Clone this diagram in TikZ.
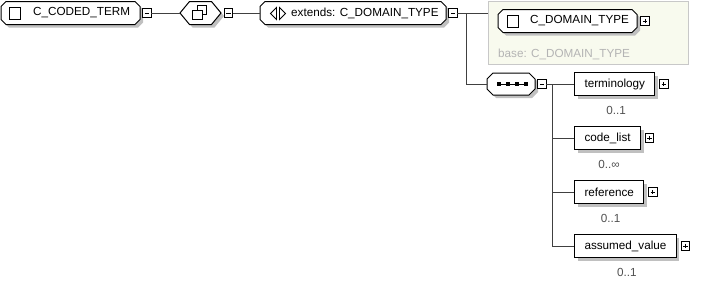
\documentclass[tikz,border=0pt]{standalone}
\usepackage{fontspec}
\setmainfont{Liberation Sans}
\usetikzlibrary{shadows}

\definecolor{shadowc}{HTML}{C0C0C0}
\definecolor{wire}{HTML}{404040}
\definecolor{panelfill}{HTML}{F8FAEE}
\definecolor{paneledge}{HTML}{C8C8C8}
\definecolor{basetext}{HTML}{B4B4B4}
\definecolor{cardtext}{HTML}{505050}

\tikzset{
  boxline/.style={draw=black, line width=1pt, fill=white},
  anchorbox/.style={inner sep=0pt, outer sep=0pt},
  lbl/.style={font=\fontsize{11.7}{13}\selectfont, inner sep=0pt, anchor=west},
  card/.style={font=\fontsize{11.7}{13}\selectfont, inner sep=0pt, text=cardtext},
  wire/.style={draw=wire, line width=1pt},
  icon/.style={draw=black, line width=0.9pt, fill=white},
  togminus/.style={draw=black, line width=1pt, fill=white, minimum size=8.5pt,
    inner sep=0pt, outer sep=0pt,
    path picture={\draw[line width=1pt]
      ([xshift=2pt]path picture bounding box.west) --
      ([xshift=-2pt]path picture bounding box.east);}},
  togplus/.style={draw=black, line width=1pt, fill=white, minimum size=8.5pt,
    inner sep=0pt, outer sep=0pt,
    path picture={\draw[line width=1pt]
      ([xshift=2pt]path picture bounding box.west) --
      ([xshift=-2pt]path picture bounding box.east)
      ([yshift=-2pt]path picture bounding box.north) --
      ([yshift=2pt]path picture bounding box.south);}},
  childbox/.style={draw=black, line width=1pt, fill=white, anchor=west,
    minimum height=23pt, inner xsep=10pt, inner ysep=0pt,
    font=\fontsize{11.7}{13}\selectfont,
    drop shadow={shadow xshift=3pt, shadow yshift=-3pt, fill=shadowc, opacity=1}},
}

% octagonal box (chamfered corners) with its shadow and a named anchor node
% #1 name, #2 x1, #3 y1, #4 x2, #5 y2, #6 chamfer
\newcommand\octbox[6]{%
  \fill[shadowc] (#2+#6+3,#3+3) -- (#4-#6+3,#3+3) -- (#4+3,#3+#6+3) -- (#4+3,#5-#6+3)
    -- (#4-#6+3,#5+3) -- (#2+#6+3,#5+3) -- (#2+3,#5-#6+3) -- (#2+3,#3+#6+3) -- cycle;
  \draw[boxline] (#2+#6,#3) -- (#4-#6,#3) -- (#4,#3+#6) -- (#4,#5-#6)
    -- (#4-#6,#5) -- (#2+#6,#5) -- (#2,#5-#6) -- (#2,#3+#6) -- cycle;
  \node[anchorbox, minimum width={(#4)-(#2)}, minimum height={(#5)-(#3)}]
    (#1) at ({(#2+#4)/2},{(#3+#5)/2}) {};
}

% hexagonal compositor box with its shadow and a named anchor node
% #1 name, #2 x1, #3 y1, #4 x2, #5 y2, #6 tip depth
\newcommand\hexbox[6]{%
  \fill[shadowc] (#2+3,{(#3+#5)/2+3}) -- (#2+#6+3,#3+3) -- (#4-#6+3,#3+3)
    -- (#4+3,{(#3+#5)/2+3}) -- (#4-#6+3,#5+3) -- (#2+#6+3,#5+3) -- cycle;
  \draw[boxline] (#2,{(#3+#5)/2}) -- (#2+#6,#3) -- (#4-#6,#3)
    -- (#4,{(#3+#5)/2}) -- (#4-#6,#5) -- (#2+#6,#5) -- cycle;
  \node[anchorbox, minimum width={(#4)-(#2)}, minimum height={(#5)-(#3)}]
    (#1) at ({(#2+#4)/2},{(#3+#5)/2}) {};
}

\begin{document}
\begin{tikzpicture}[x=1pt, y=-1pt]
\useasboundingbox (0,0) rectangle (721,281);

% ---- root element C_CODED_TERM ----
\octbox{cterm}{1}{1.5}{140}{24.5}{5}
\draw[icon] (9,7) rectangle (20,19);
\node[lbl] (cterm-t) at (33,13) {C\_CODED\_TERM};
\node[togminus] (m1) at (147,13) {};

% ---- "all" compositor ----
\hexbox{all}{180}{1.5}{221}{24.5}{9.5}
\draw[icon] (197,5) rectangle (206.5,14.5);
\draw[icon] (192,10) rectangle (202,19.5);
\node[togminus] (m2) at (228.5,13) {};

% ---- extension of C_DOMAIN_TYPE ----
\octbox{ext}{260}{1.5}{446}{24.5}{5}
\draw[line width=0.9pt] (276.5,7.5) -- (270.5,13.5) -- (276.5,19.5) -- cycle;
\draw[line width=0.9pt] (279.5,7.5) -- (285.5,13.5) -- (279.5,19.5) -- cycle;
\node[lbl] (ext-t) at (291,13) {extends: C\_DOMAIN\_TYPE};
\node[togminus] (m3) at (453,13) {};

% ---- base type panel ----
\node[draw=paneledge, fill=panelfill, line width=1pt, anchor=north west,
      minimum width=200pt, minimum height=63pt, inner sep=0pt] (panel) at (488,0.5) {};
\octbox{cdt}{498}{9.5}{637}{32.5}{5}
\draw[icon] (507,15) rectangle (518,27);
\node[lbl] (cdt-t) at (530,21) {C\_DOMAIN\_TYPE};
\node[togplus] (p0) at (645,21) {};
\node[lbl, text=basetext] (base-t) at (498,54) {base: C\_DOMAIN\_TYPE};

% ---- sequence compositor ----
\octbox{seq}{487}{73}{535}{95}{6}
\draw[line width=1pt] (497,84) -- (527,84);
\foreach \sx in {498.5,507.5,516.5,525.5}
  \fill (\sx-2,82) rectangle (\sx+2,86);
\node[togminus] (m4) at (542,84) {};

% ---- child elements ----
\node[childbox] (term) at (574,84)  {terminology};
\node[childbox] (clist) at (574,138) {code\_list};
\node[childbox] (ref) at (574,192)   {reference};
\node[childbox] (aval) at (574,246)  {assumed\_value};

\node[togplus] (p1) at ([xshift=8.5pt]term.east)  {};
\node[togplus] (p2) at ([xshift=8.5pt]clist.east) {};
\node[togplus] (p3) at ([xshift=8.5pt]ref.east)   {};
\node[togplus] (p4) at ([xshift=8.5pt]aval.east)  {};

\node[card] (term-c)  at ([xshift=1.5pt,yshift=-26pt]term.center)  {0..1};
\node[card] (clist-c) at ([xshift=1.5pt,yshift=-26pt]clist.center) {0..∞};
\node[card] (ref-c)   at ([xshift=1.5pt,yshift=-26pt]ref.center)   {0..1};
\node[card] (aval-c)  at ([xshift=1.5pt,yshift=-26pt]aval.center)  {0..1};

% ---- connectors ----
\coordinate (j1) at (466,13);
\coordinate (j2) at (466,84);
\coordinate (j3) at (552,84);

\draw[wire] (m1.east) -- (all.west);
\draw[wire] (m2.east) -- (ext.west);
\draw[wire] (m3.east) -- (j1 -| panel.west);
\draw[wire] (j1) -- (j2) -- (seq.west);
\draw[wire] (m4.east) -- (j3);
\draw[wire] (j3) -- (j3 |- aval.west);
\draw[wire] (j3 |- term.west) -- (term.west);
\draw[wire] (j3 |- clist.west) -- (clist.west);
\draw[wire] (j3 |- ref.west) -- (ref.west);
\draw[wire] (j3 |- aval.west) -- (aval.west);
\end{tikzpicture}
\end{document}
